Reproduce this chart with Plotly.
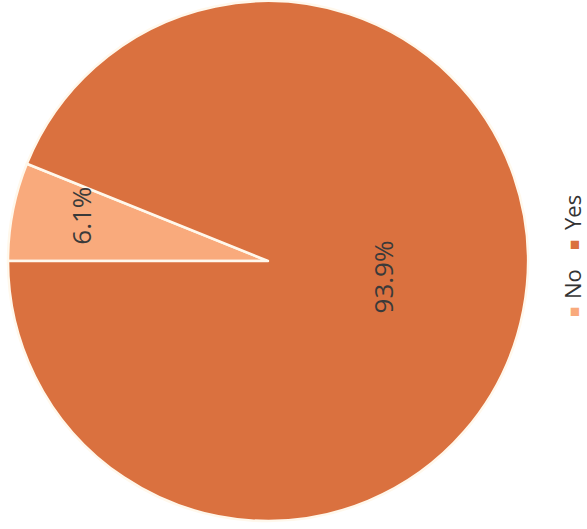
import math
import plotly.graph_objects as go

labels = ["No", "Yes"]
values = [6.1, 93.9]
colors = ["#F9AA7C", "#DA713F"]

W, H = 587, 529
dom_x = [8 / W, 528 / W]
dom_y = [7 / H, 1.0]

fig = go.Figure(go.Pie(
    labels=labels, values=values, sort=False, direction="clockwise",
    rotation=270, textinfo="none", hoverinfo="label+percent",
    marker=dict(colors=colors, line=dict(color="#FFF8EC", width=2.5)),
    domain=dict(x=dom_x, y=dom_y), showlegend=False,
))

# center and radius in pixels
cx = (dom_x[0] + dom_x[1]) / 2 * W
cy_top = H - (dom_y[0] + dom_y[1]) / 2 * H
R = min((dom_x[1] - dom_x[0]) * W, (dom_y[1] - dom_y[0]) * H) / 2

total = sum(values)
start = 180.0  # math angle of 9 o'clock
frac_r = [0.74, 0.45]
frac_a = [0.62, 0.49]
ann = []
a0 = start
for lab, v, fr, fa in zip(labels, values, frac_r, frac_a):
    sweep = v / total * 360
    ang = a0 - sweep * fa
    a0 -= sweep
    px = cx + fr * R * math.cos(math.radians(ang))
    py = cy_top - fr * R * math.sin(math.radians(ang))
    ann.append(dict(x=px / W, y=1 - py / H, xref="paper", yref="paper",
                    xanchor="center", yanchor="middle",
                    text=f"{v / total * 100:.1f}%", showarrow=False, textangle=-90,
                    font=dict(family="Open Sans", size=26, color="#3a3a3a")))

# rotated legend
leg_y = {"No": (312, 284), "Yes": (245, 213)}
for lab, col in zip(labels, colors):
    sy, ty = leg_y[lab]
    ann.append(dict(x=573 / W, y=1 - sy / H, xref="paper", yref="paper", text="■",
                    xanchor="center", yanchor="middle",
                    showarrow=False, textangle=-90, font=dict(size=17, color=col)))
    ann.append(dict(x=572 / W, y=1 - ty / H, xref="paper", yref="paper", text=lab,
                    xanchor="center", yanchor="middle",
                    showarrow=False, textangle=-90,
                    font=dict(family="Open Sans", size=22, color="#333333")))

fig.update_layout(width=W, height=H, margin=dict(l=0, r=0, t=0, b=0),
                  paper_bgcolor="white", plot_bgcolor="white", annotations=ann)
fig.write_html("out.html")
